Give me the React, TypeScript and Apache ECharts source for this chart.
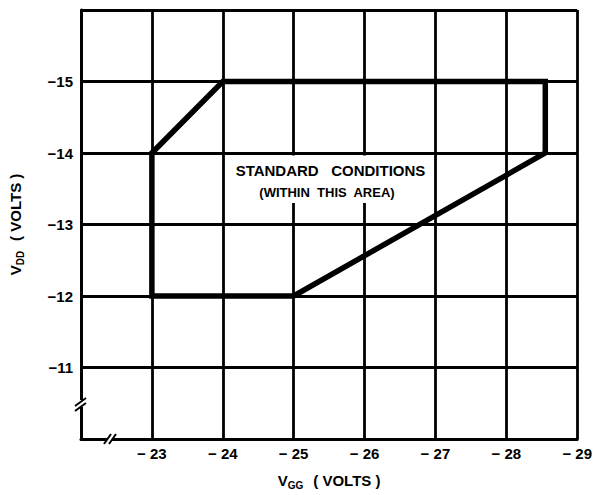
import React, { useEffect, useRef } from "react";
import * as echarts from "echarts";

// Region of standard conditions (VGG, VDD) in volts
const regionVgg = [-23, -23, -24, -28.55, -28.55, -25, -23];
const regionVdd = [-12, -14, -15, -15, -14, -12, -12];

const xMin = -29;
const xMax = -22;
const yMin = -16;
const yMax = -10;
const xTickLabels = [-23, -24, -25, -26, -27, -28, -29];
const yTickLabels = [-11, -12, -13, -14, -15];

const noteLine1 = "STANDARD   CONDITIONS";
const noteLine2 = "(WITHIN  THIS  AREA)";

const FONT = "Liberation Sans";

export default function App() {
  const ref = useRef<HTMLDivElement>(null);
  useEffect(() => {
    if (!ref.current) return;
    const chart = echarts.init(ref.current, null, { renderer: "svg" });
    const data = regionVgg.map((v, i) => [v, regionVdd[i]]);
    const titleRich = {
      v: { fontSize: 15, fontFamily: FONT, color: "#000", fontWeight: "bold" },
      s: { fontSize: 10, fontFamily: FONT, color: "#000", fontWeight: "bold", verticalAlign: "bottom", padding: [9, 0, 0, 0] },
    };
    chart.setOption({
      animation: false,
      backgroundColor: "#fff",
      grid: { left: 73, right: 14, top: 10, bottom: 54 },
      xAxis: {
        type: "value",
        min: xMin,
        max: xMax,
        interval: 1,
        inverse: true,
        name: "{v|V}{s|GG}   {v|( VOLTS )}",
        nameLocation: "middle",
        nameGap: 32,
        nameTextStyle: { rich: titleRich },
        axisLine: { show: true, lineStyle: { color: "#000", width: 3 } },
        axisTick: { show: false },
        splitLine: { show: true, lineStyle: { color: "#000", width: 2.8 } },
        axisLabel: {
          margin: 7,
          fontSize: 15,
          fontFamily: FONT,
          fontWeight: "bold",
          color: "#000",
          formatter: (v: number) =>
            xTickLabels.indexOf(Math.round(v)) >= 0 ? "\u2212 " + Math.abs(Math.round(v)) : "",
        },
      },
      yAxis: {
        type: "value",
        min: yMin,
        max: yMax,
        interval: 1,
        inverse: true,
        name: "{v|V}{s|DD}   {v|( VOLTS )}",
        nameLocation: "middle",
        nameGap: 56,
        nameTextStyle: { rich: titleRich },
        axisLine: { show: true, lineStyle: { color: "#000", width: 3 } },
        axisTick: { show: false },
        splitLine: { show: true, lineStyle: { color: "#000", width: 2.8 } },
        axisLabel: {
          margin: 8,
          fontSize: 15,
          fontFamily: FONT,
          fontWeight: "bold",
          color: "#000",
          formatter: (v: number) =>
            yTickLabels.indexOf(Math.round(v)) >= 0 ? "\u2212" + Math.abs(Math.round(v)) : "",
        },
      },
      series: [
        {
          type: "line",
          data,
          symbol: "none",
          z: 5,
          lineStyle: { color: "#000", width: 5.5, join: "miter", cap: "square" },
        },
      ],
    });

    const p = (x: number, y: number) => chart.convertToPixel({ gridIndex: 0 }, [x, y]) as number[];
    const boxA = p(-24, -14);
    const boxB = p(-27, -13.3);
    const t1 = p(-25.52, -13.76);
    const t2 = p(-25.47, -13.45);
    const origin = p(-22, -10);

    chart.setOption({
      graphic: [
        {
          type: "rect",
          z: 10,
          shape: { x: boxA[0] + 2.5, y: boxA[1] + 2.5, width: boxB[0] - boxA[0] - 5, height: boxB[1] - boxA[1] - 2.5 },
          style: { fill: "#fff" },
        },
        {
          type: "text",
          z: 11,
          x: t1[0],
          y: t1[1],
          style: { text: noteLine1, fontSize: 15, fontFamily: FONT, fontWeight: "bold", fill: "#000", align: "center", verticalAlign: "middle" },
        },
        {
          type: "text",
          z: 11,
          x: t2[0],
          y: t2[1],
          style: { text: noteLine2, fontSize: 13, fontFamily: FONT, fontWeight: "bold", fill: "#000", align: "center", verticalAlign: "middle" },
        },
        // axis break marks
        { type: "rect", z: 10, shape: { x: origin[0] - 4, y: origin[1] - 39, width: 8, height: 7 }, style: { fill: "#fff" } },
        { type: "line", z: 11, shape: { x1: origin[0] - 6, y1: origin[1] - 33, x2: origin[0] + 5, y2: origin[1] - 41 }, style: { stroke: "#000", lineWidth: 2 } },
        { type: "line", z: 11, shape: { x1: origin[0] - 6, y1: origin[1] - 28, x2: origin[0] + 5, y2: origin[1] - 36 }, style: { stroke: "#000", lineWidth: 2 } },
        { type: "rect", z: 10, shape: { x: origin[0] + 26, y: origin[1] - 4, width: 5, height: 8 }, style: { fill: "#fff" } },
        { type: "line", z: 11, shape: { x1: origin[0] + 23, y1: origin[1] + 5, x2: origin[0] + 30, y2: origin[1] - 5 }, style: { stroke: "#000", lineWidth: 2 } },
        { type: "line", z: 11, shape: { x1: origin[0] + 28, y1: origin[1] + 5, x2: origin[0] + 35, y2: origin[1] - 5 }, style: { stroke: "#000", lineWidth: 2 } },
      ],
    });
    return () => chart.dispose();
  }, []);
  return (
    <div
      ref={ref}
      style={{ position: "fixed", left: 0, top: 0, width: 595, height: 495, background: "#fff" }}
    />
  );
}
